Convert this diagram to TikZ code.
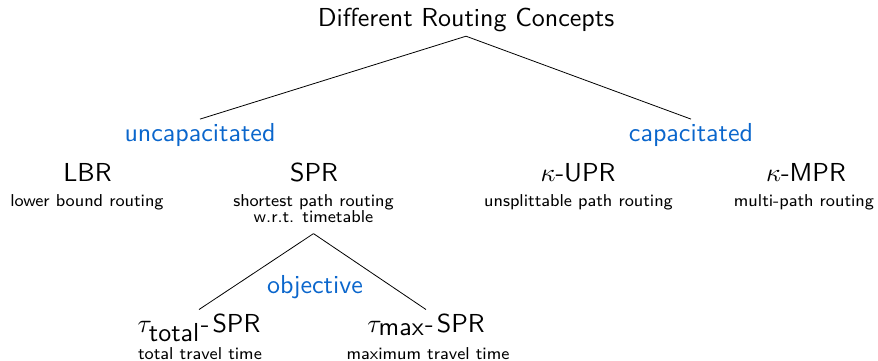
\documentclass[tikz,border=0pt]{standalone}
\definecolor{accent}{RGB}{10,102,204}
\tikzset{
  bigtext/.style={font=\sffamily\fontsize{10}{12}\selectfont, scale=2.6, inner sep=1.28pt, anchor=base},
  smalltext/.style={font=\sffamily\fontsize{8}{9.6}\selectfont, scale=2.15, inner sep=0pt, anchor=base},
  cattext/.style={bigtext, text=accent},
  edge/.style={draw=black, line width=0.8pt}
}
\begin{document}
\begin{tikzpicture}[x=1pt,y=1pt]
\useasboundingbox (0,0) rectangle (878,-361);
\node[bigtext] (title) at (466,-27) {Different Routing Concepts};
\node[cattext] (uncap) at (200,-141) {uncapacitated};
\node[cattext] (cap) at (691,-141) {capacitated};
\node[bigtext] (lbr) at (87.5,-181) {LBR};
\node[smalltext] (lbrd) at (87,-206.5) {lower bound routing};
\node[bigtext] (spr) at (314,-181) {SPR};
\node[smalltext] (sprd) at (313.5,-206.5) {shortest path routing};
\node[smalltext] (sprdd) at (313.5,-222) {w.r.t. timetable};
\node[bigtext] (upr) at (578,-181) {$\kappa$-UPR};
\node[smalltext] (uprd) at (578.5,-206.5) {unsplittable path routing};
\node[bigtext] (mpr) at (806,-181) {$\kappa$-MPR};
\node[smalltext] (mprd) at (804,-206.5) {multi-path routing};
\node[cattext] (obj) at (315,-293) {objective};
\node[bigtext] (ttot) at (199,-332) {$\tau_{\textsf{total}}$-\kern0.12em SPR};
\node[smalltext] (ttotd) at (200,-359) {total travel time};
\node[bigtext] (tmax) at (426,-332) {$\tau_{\textsf{max}}$-\kern0.12em SPR};
\node[smalltext] (tmaxd) at (428,-359) {maximum travel time};
\coordinate (apex) at ([yshift=-11pt]sprdd.south);
\draw[edge] (title.south) -- (uncap.north);
\draw[edge] (title.south) -- (cap.north);
\draw[edge] (apex) -- (ttot.north);
\draw[edge] (apex) -- (tmax.north);
\end{tikzpicture}
\end{document}
